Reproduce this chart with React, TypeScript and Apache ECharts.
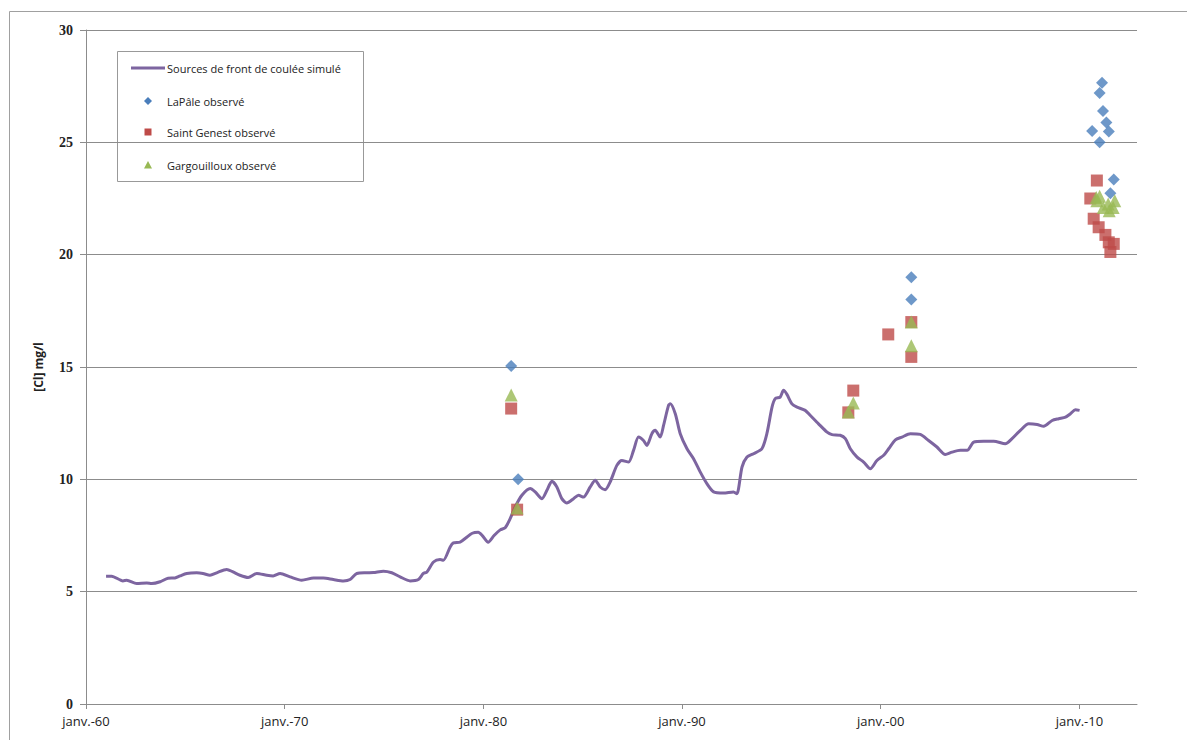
import React, { useEffect, useRef } from "react";
import * as echarts from "echarts";

// Simulated chloride concentration (decimal year, mg/l)
const simYears = [
  1961.01, 1961.29, 1961.86, 1962.05, 1962.55, 1963.06, 1963.31, 1963.73, 1964.13, 1964.48,
  1964.73, 1965.07, 1965.57, 1965.89, 1966.24, 1966.58, 1967.08, 1967.4, 1967.75, 1968.16,
  1968.6, 1969.1, 1969.42, 1969.77, 1970.27, 1970.86, 1971.45, 1971.95, 1972.45, 1972.96,
  1973.29, 1973.63, 1974.13, 1974.47, 1974.97, 1975.39, 1975.81, 1976.31, 1976.73, 1976.98,
  1977.16, 1977.49, 1977.82, 1977.99, 1978.33, 1978.49, 1978.83, 1979.13, 1979.44, 1979.74,
  1979.99, 1980.24, 1980.54, 1980.85, 1981.1, 1981.35, 1981.6, 1981.94, 1982.36, 1982.61,
  1982.95, 1983.2, 1983.45, 1983.7, 1983.95, 1984.2, 1984.54, 1984.79, 1985.04, 1985.38,
  1985.63, 1985.88, 1986.13, 1986.38, 1986.72, 1986.97, 1987.31, 1987.56, 1987.81, 1988.06,
  1988.23, 1988.48, 1988.65, 1988.9, 1989.07, 1989.32, 1989.41, 1989.66, 1989.91, 1990.25,
  1990.58, 1990.92, 1991.25, 1991.59, 1992.09, 1992.59, 1992.76, 1993.02, 1993.27, 1993.6,
  1994.02, 1994.27, 1994.53, 1994.69, 1994.94, 1995.11, 1995.28, 1995.53, 1995.79, 1996.2,
  1996.46, 1996.87, 1997.3, 1997.55, 1997.96, 1998.22, 1998.47, 1998.81, 1999.14, 1999.48,
  1999.81, 2000.15, 2000.4, 2000.74, 2001.07, 2001.49, 2001.99, 2002.41, 2002.83, 2003.25,
  2003.59, 2004.01, 2004.35, 2004.68, 2005.18, 2005.69, 2006.27, 2006.61, 2007.03, 2007.45,
  2007.87, 2008.2, 2008.63, 2008.96, 2009.3, 2009.55, 2009.8, 2010.01,
];
const simValues = [
  5.69, 5.69, 5.48, 5.51, 5.36, 5.39, 5.36, 5.44, 5.6, 5.61,
  5.7, 5.81, 5.84, 5.81, 5.73, 5.84, 5.99, 5.88, 5.73, 5.63,
  5.81, 5.73, 5.7, 5.81, 5.66, 5.51, 5.61, 5.61, 5.54, 5.48,
  5.54, 5.81, 5.84, 5.85, 5.91, 5.84, 5.66, 5.48, 5.54, 5.81,
  5.88, 6.32, 6.43, 6.4, 6.99, 7.17, 7.21, 7.4, 7.6, 7.64,
  7.45, 7.2, 7.5, 7.75, 7.85, 8.25, 8.77, 9.29, 9.59, 9.44,
  9.14, 9.51, 9.91, 9.66, 9.14, 8.95, 9.14, 9.29, 9.21, 9.66,
  9.96, 9.66, 9.54, 9.88, 10.62, 10.84, 10.77, 11.29, 11.88, 11.73,
  11.51, 12.03, 12.18, 11.88, 12.4, 13.29, 13.36, 12.92, 12.03, 11.36,
  10.92, 10.32, 9.81, 9.44, 9.39, 9.44, 9.36, 10.55, 10.99, 11.14,
  11.36, 12.03, 13.21, 13.59, 13.66, 13.96, 13.78, 13.36, 13.21, 13.07,
  12.84, 12.47, 12.1, 11.99, 11.96, 11.81, 11.36, 10.99, 10.77, 10.47,
  10.84, 11.07, 11.36, 11.76, 11.88, 12.03, 12.0, 11.73, 11.44, 11.11,
  11.21, 11.29, 11.29, 11.66, 11.7, 11.7, 11.58, 11.81, 12.18, 12.47,
  12.44, 12.36, 12.62, 12.7, 12.77, 12.92, 13.1, 13.07,
];

// Observations (decimal year, mg/l)
const laPaleYears = [1981.4, 1981.75, 2001.54, 2001.54, 2011.14, 2011.02, 2011.19, 2011.36, 2010.64, 2011.48, 2011.02, 2011.73, 2011.56];
const laPaleValues = [15.05, 10.0, 19.0, 18.0, 27.65, 27.2, 26.4, 25.88, 25.5, 25.48, 25.0, 23.35, 22.73];

const stGenestYears = [1981.4, 1981.7, 1998.37, 1998.62, 2000.38, 2001.54, 2001.54, 2010.88, 2010.55, 2010.72, 2010.97, 2011.31, 2011.48, 2011.73, 2011.56];
const stGenestValues = [13.15, 8.65, 12.98, 13.95, 16.45, 17.0, 15.45, 23.3, 22.5, 21.6, 21.22, 20.88, 20.55, 20.48, 20.12];

const gargYears = [1981.4, 1981.7, 1998.37, 1998.62, 2001.54, 2001.54, 2010.85, 2011.02, 2010.88, 2011.2, 2011.45, 2011.7, 2011.78, 2011.5];
const gargValues = [13.75, 8.72, 13.0, 13.4, 17.0, 15.95, 22.55, 22.6, 22.4, 22.1, 22.25, 22.1, 22.4, 21.95];

const xTickYears = [1960, 1970, 1980, 1990, 2000, 2010];
const seriesNames = [
  "Sources de front de coulée simulé",
  "LaPâle observé",
  "Saint Genest observé",
  "Gargouilloux observé",
];

const LINE_COLOR = "#7d65a0";
const BLUE = "#4a7ebb";
const RED = "#be4b48";
const GREEN = "#98b954";

const zip = (xs: number[], ys: number[]) => xs.map((x, i) => [x, ys[i]]);

function legendGraphic() {
  const bx = 117.5;
  const by = 51.5;
  const rowsY = [68, 101, 132, 165];
  const textX = 167;
  const mx = 148;
  const els: any[] = [
    {
      type: "rect",
      silent: true,
      shape: { x: bx, y: by, width: 246, height: 130 },
      style: { fill: "#ffffff", stroke: "#999999", lineWidth: 1 },
    },
    {
      type: "line",
      silent: true,
      shape: { x1: 131, y1: rowsY[0], x2: 165, y2: rowsY[0] },
      style: { stroke: LINE_COLOR, lineWidth: 3 },
    },
    {
      type: "polygon",
      silent: true,
      shape: { points: [[mx, rowsY[1] - 4], [mx + 4, rowsY[1]], [mx, rowsY[1] + 4], [mx - 4, rowsY[1]]] },
      style: { fill: BLUE },
    },
    {
      type: "rect",
      silent: true,
      shape: { x: mx - 3.5, y: rowsY[2] - 3.5, width: 7, height: 7 },
      style: { fill: RED },
    },
    {
      type: "polygon",
      silent: true,
      shape: { points: [[mx, rowsY[3] - 4], [mx + 4, rowsY[3] + 3.5], [mx - 4, rowsY[3] + 3.5]] },
      style: { fill: GREEN },
    },
  ];
  seriesNames.forEach((n, i) => {
    els.push({
      type: "text",
      silent: true,
      x: textX,
      y: rowsY[i],
      style: {
        text: n,
        fontFamily: "Open Sans",
        fontSize: 11,
        fill: "#222222",
        textVerticalAlign: "middle",
        verticalAlign: "middle",
      },
    });
  });
  return { type: "group", z: 100, children: els };
}

export default function App() {
  const ref = useRef<HTMLDivElement>(null);
  useEffect(() => {
    document.body.style.margin = "0";
    if (!ref.current) return;
    const chart = echarts.init(ref.current, undefined, { renderer: "svg" });
    const gridColor = "#8c8c8c";
    chart.setOption({
      animation: false,
      backgroundColor: "#ffffff",
      graphic: [
        {
          type: "rect",
          silent: true,
          z: -10,
          shape: { x: 9.5, y: 11.5, width: 1250, height: 800 },
          style: { fill: "none", stroke: "#a0a0a0", lineWidth: 1 },
        },
        legendGraphic(),
      ],
      grid: { left: 86, top: 30, right: 50, bottom: 36, containLabel: false },
      xAxis: {
        type: "value",
        min: 1960,
        max: 2012.9,
        interval: 10,
        axisLine: { show: true, lineStyle: { color: gridColor } },
        axisTick: { show: true, length: 5, customValues: xTickYears, lineStyle: { color: gridColor } },
        splitLine: { show: false },
        axisLabel: {
          customValues: xTickYears,
          formatter: (v: number) => "janv.-" + String(Math.round(v) % 100).padStart(2, "0"),
          fontFamily: "Open Sans",
          fontSize: 13,
          color: "#222",
          margin: 10,
        },
      },
      yAxis: {
        type: "value",
        min: 0,
        max: 30,
        interval: 5,
        name: "[Cl] mg/l",
        nameLocation: "middle",
        nameGap: 42,
        nameTextStyle: { fontFamily: "Open Sans", fontSize: 12, fontWeight: "bold", color: "#222" },
        axisLine: { show: true, lineStyle: { color: gridColor } },
        axisTick: { show: true, length: 6, lineStyle: { color: gridColor } },
        splitLine: { show: true, lineStyle: { color: gridColor, width: 1 } },
        axisLabel: {
          fontFamily: "Liberation Serif",
          fontWeight: "bold",
          fontSize: 14,
          color: "#222",
          margin: 13,
        },
      },
      series: [
        {
          name: seriesNames[0],
          type: "line",
          data: zip(simYears, simValues),
          symbol: "none",
          smooth: 0.25,
          lineStyle: { color: LINE_COLOR, width: 3 },
          itemStyle: { color: LINE_COLOR },
          z: 2,
        },
        {
          name: seriesNames[1],
          type: "scatter",
          data: zip(laPaleYears, laPaleValues),
          symbol: "diamond",
          symbolSize: 12,
          itemStyle: { color: BLUE },
          z: 3,
        },
        {
          name: seriesNames[2],
          type: "scatter",
          data: zip(stGenestYears, stGenestValues),
          symbol: "rect",
          symbolSize: 12,
          itemStyle: { color: RED },
          z: 4,
        },
        {
          name: seriesNames[3],
          type: "scatter",
          data: zip(gargYears, gargValues),
          symbol: "triangle",
          symbolSize: 13,
          itemStyle: { color: GREEN },
          z: 5,
        },
      ],
    });
    return () => chart.dispose();
  }, []);
  return <div ref={ref} style={{ width: 1187, height: 740 }} />;
}
